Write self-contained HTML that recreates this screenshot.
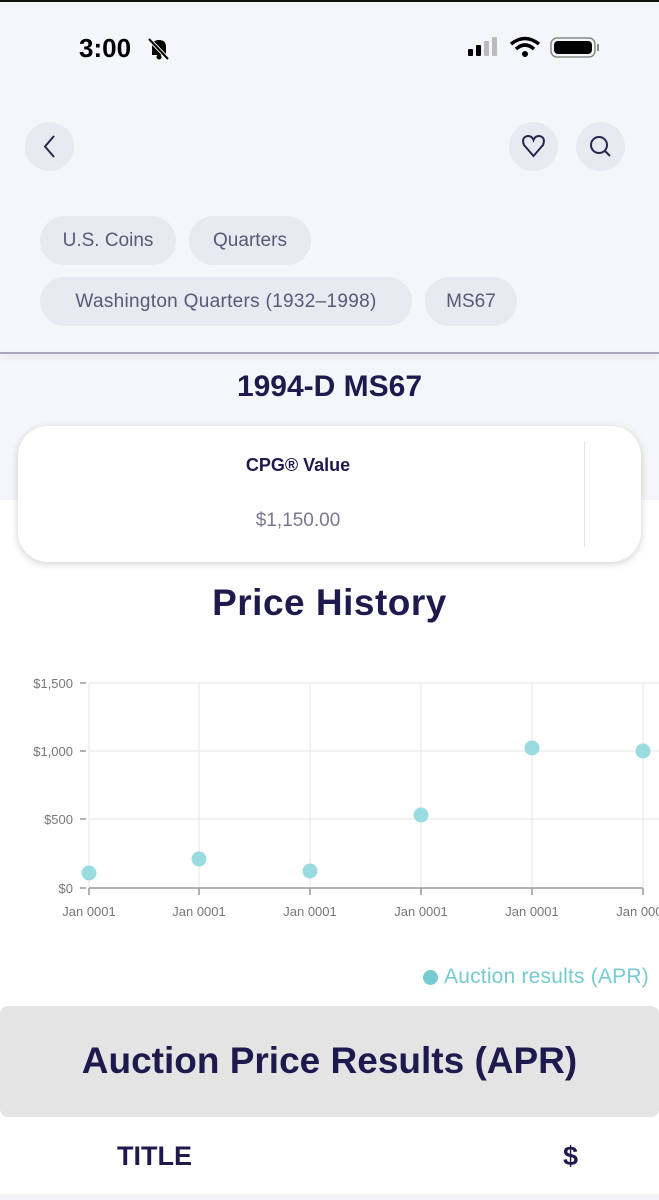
<!DOCTYPE html>
<html><head><meta charset="utf-8"><style>
*{margin:0;padding:0;box-sizing:border-box}
body{width:659px;height:1200px;overflow:hidden;background:#fff;font-family:"Liberation Sans",sans-serif;position:relative}
.a{position:absolute}
.top{left:0;top:0;width:659px;height:500px;background:#f5f6fa;border-top:2px solid #111}
.chip{position:absolute;height:49px;border-radius:25px;background:#e9e9f2;color:#5a5877;font-size:19px;line-height:49px;text-align:center;white-space:nowrap}
.btn{position:absolute;width:49px;height:49px;border-radius:50%;background:#e9e9f1}
.dark{color:#1f1a4d;font-weight:bold}
</style></head><body>
<div class="a top"></div>
<div class="a" style="left:79px;top:33px;font-size:26px;font-weight:bold;color:#000">3:00</div>
<svg class="a" style="left:146px;top:36px" width="26" height="26" viewBox="0 0 26 26"><path d="M6 19 L6 11 Q6 4 13 4 Q20 4 20 11 L20 19 Z" fill="#000"/><circle cx="13" cy="21" r="2.5" fill="#000"/><line x1="3" y1="3" x2="22" y2="23" stroke="#f5f6fa" stroke-width="4"/><line x1="3" y1="3" x2="22" y2="23" stroke="#000" stroke-width="2"/></svg>
<svg class="a" style="left:466px;top:36px" width="135" height="24"><rect x="2" y="13" width="5" height="7" rx="1"/><rect x="10" y="9" width="5" height="11" rx="1"/><rect x="18" y="5" width="5" height="15" rx="1" fill="#bbb"/><rect x="26" y="1" width="5" height="19" rx="1" fill="#bbb"/>
<path d="M45 8 Q59 -3 73 8" stroke="#000" stroke-width="3.5" fill="none"/><path d="M50 13 Q59 5 68 13" stroke="#000" stroke-width="3.5" fill="none"/><circle cx="59" cy="18" r="3"/>
<rect x="85" y="2" width="44" height="19" rx="6" fill="none" stroke="#888" stroke-width="1.5"/><rect x="88" y="5" width="38" height="13" rx="4"/><rect x="131" y="8" width="2" height="7" fill="#888"/></svg>
<div class="btn" style="left:25px;top:122px"></div>
<svg class="a" style="left:25px;top:122px" width="49" height="49"><path d="M29 14 L20 24.5 L29 35" stroke="#2a2650" stroke-width="2" fill="none"/></svg>
<div class="btn" style="left:509px;top:122px"></div>
<svg class="a" style="left:509px;top:122px" width="49" height="49"><path d="M24.5 34 L15 23 Q12 15 19 14 Q23 14 24.5 18 Q26 14 30 14 Q37 15 34 23 Z" stroke="#2a2650" stroke-width="2" fill="none"/></svg>
<div class="btn" style="left:576px;top:122px"></div>
<svg class="a" style="left:576px;top:122px" width="49" height="49"><circle cx="23" cy="23" r="8" stroke="#2a2650" stroke-width="2" fill="none"/><line x1="29" y1="29" x2="34" y2="34" stroke="#2a2650" stroke-width="2"/></svg>
<div class="chip" style="left:40px;top:216px;width:136px">U.S. Coins</div>
<div class="chip" style="left:189px;top:216px;width:122px">Quarters</div>
<div class="chip" style="left:40px;top:277px;width:372px;letter-spacing:0.3px">Washington Quarters (1932–1998)</div>
<div class="chip" style="left:425px;top:277px;width:92px">MS67</div>
<div class="a" style="left:0;top:352px;width:659px;height:2px;background:#a9a4c4;box-shadow:0 3px 6px rgba(0,0,0,.12)"></div>
<div class="a dark" style="left:0;top:370px;width:659px;text-align:center;font-size:30px">1994-D MS67</div>
<div class="a" style="left:18px;top:426px;width:623px;height:136px;background:#fff;border-radius:30px;box-shadow:0 2px 8px rgba(0,0,0,.18)"></div>
<div class="a" style="left:584px;top:441px;width:1px;height:106px;background:#e4e4e8"></div>
<div class="a dark" style="left:198px;top:455px;width:200px;text-align:center;font-size:18px">CPG® Value</div>
<div class="a" style="left:198px;top:510px;width:200px;text-align:center;font-size:19px;color:#7a7890">$1,150.00</div>
<div class="a dark" style="left:0;top:582px;width:659px;text-align:center;font-size:37px;letter-spacing:0.5px">Price History</div>
<svg class="a" style="left:0;top:660px" width="659" height="270" font-family="Liberation Sans" font-size="13" fill="#777">
<g stroke="#e6e6e6" stroke-width="1">
<line x1="89" y1="23" x2="659" y2="23"/><line x1="89" y1="91" x2="659" y2="91"/><line x1="89" y1="159" x2="659" y2="159"/>
<line x1="89" y1="23" x2="89" y2="228"/><line x1="199" y1="23" x2="199" y2="228"/><line x1="310" y1="23" x2="310" y2="228"/><line x1="421" y1="23" x2="421" y2="228"/><line x1="532" y1="23" x2="532" y2="228"/><line x1="643" y1="23" x2="643" y2="228"/></g>
<g stroke="#999" stroke-width="1.5"><line x1="89" y1="228" x2="643" y2="228"/>
<line x1="80" y1="23" x2="86" y2="23"/><line x1="80" y1="91" x2="86" y2="91"/><line x1="80" y1="159" x2="86" y2="159"/><line x1="80" y1="228" x2="86" y2="228"/>
<line x1="89" y1="228" x2="89" y2="235"/><line x1="199" y1="228" x2="199" y2="235"/><line x1="310" y1="228" x2="310" y2="235"/><line x1="421" y1="228" x2="421" y2="235"/><line x1="532" y1="228" x2="532" y2="235"/><line x1="643" y1="228" x2="643" y2="235"/></g>
<g text-anchor="end"><text x="73" y="28">$1,500</text><text x="73" y="96">$1,000</text><text x="73" y="164">$500</text><text x="73" y="233">$0</text></g>
<g text-anchor="middle"><text x="89" y="256">Jan 0001</text><text x="199" y="256">Jan 0001</text><text x="310" y="256">Jan 0001</text><text x="421" y="256">Jan 0001</text><text x="532" y="256">Jan 0001</text><text x="643" y="256">Jan 0001</text></g>
<g fill="#9adbe0"><circle cx="89" cy="213" r="7.5"/><circle cx="199" cy="199" r="7.5"/><circle cx="310" cy="211" r="7.5"/><circle cx="421" cy="155" r="7.5"/><circle cx="532" cy="88" r="7.5"/><circle cx="643" cy="91" r="7.5"/></g>
</svg>
<div class="a" style="left:423px;top:970px;width:15px;height:15px;border-radius:50%;background:#76cbd0"></div>
<div class="a" style="left:444px;top:965px;font-size:21px;color:#76cbd0;letter-spacing:0.2px">Auction results (APR)</div>
<div class="a" style="left:0;top:1006px;width:659px;height:111px;background:#e4e4e4;border-radius:8px"></div>
<div class="a dark" style="left:0;top:1040px;width:659px;text-align:center;font-size:37px;letter-spacing:0">Auction Price Results (APR)</div>
<div class="a dark" style="left:117px;top:1141px;font-size:27px">TITLE</div>
<div class="a dark" style="left:563px;top:1141px;font-size:27px">$</div>
<div class="a" style="left:0;top:1194px;width:659px;height:6px;background:#f4f4f9"></div>
</body></html>
